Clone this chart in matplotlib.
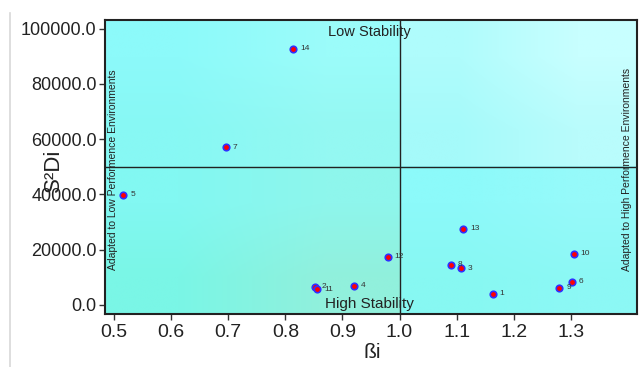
import numpy as np
import matplotlib
matplotlib.use("Agg")
import matplotlib.pyplot as plt
from matplotlib.lines import Line2D

# genotype stability data (beta_i vs S2Di)
genotypes = ["1", "2", "3", "4", "5", "6", "7", "8", "9", "10", "11", "12", "13", "14"]
beta = [1.163, 0.852, 1.108, 0.920, 0.516, 1.302, 0.696, 1.090, 1.280, 1.305, 0.856, 0.979, 1.112, 0.814]
s2di = [3990, 6640, 13300, 7000, 39900, 8460, 57060, 14510, 6290, 18620, 5690, 17410, 27570, 92760]

xticks = [0.5, 0.6, 0.7, 0.8, 0.9, 1.0, 1.1, 1.2, 1.3]
yticks = [0, 20000, 40000, 60000, 80000, 100000]

x0, x1 = 0.484, 1.416
y0, y1 = -3265, 103100
xmid, ymid = 1.0, 50000

plt.rcParams['font.family'] = ['Liberation Sans', 'DejaVu Sans']

fig = plt.figure(figsize=(6.43, 3.67), dpi=100)
ax = fig.add_axes([105/643, 1 - 314/367, 532/643, 294/367])

# quadrant gradients: corners [[top-left, top-right], [bottom-left, bottom-right]]
def quad(xa, xb, ya, yb, tl, tr, bl, br):
    img = np.array([[tl, tr], [bl, br]], dtype=float) / 255.0
    ax.imshow(img, extent=[xa, xb, ya, yb], aspect='auto', interpolation='bilinear',
              origin='upper', zorder=0)

quad(x0, xmid, ymid, y1, (140, 250, 250), (155, 252, 250), (135, 248, 244), (148, 248, 242))
quad(xmid, x1, ymid, y1, (175, 252, 252), (200, 255, 255), (165, 250, 250), (185, 252, 252))
quad(x0, xmid, y0, ymid, (130, 248, 242), (142, 246, 236), (122, 246, 230), (145, 240, 220))
quad(xmid, x1, y0, ymid, (140, 250, 250), (150, 250, 250), (135, 248, 242), (140, 248, 245))

ax.axvline(xmid, color='#222222', lw=1.0, zorder=1)
ax.axhline(ymid, color='#222222', lw=1.0, zorder=1)

ax.scatter(beta, s2di, s=22, facecolor='red', edgecolor='#3030ff', linewidths=1.2, zorder=3)
for g, bx, sy in zip(genotypes, beta, s2di):
    ax.annotate(g, (bx, sy), xytext=(5, 0), textcoords='offset points',
                fontsize=6, va='center', ha='left', color='#333333', zorder=4)

ax.text(0.948, 98600, "Low Stability", ha='center', va='center', fontsize=10.5, color='#222222')
ax.text(0.948, 200, "High Stability", ha='center', va='center', fontsize=11, color='#222222')
ax.text(0.498, 49000, "Adapted to Low Performence Environments", rotation=90,
        ha='center', va='center', fontsize=7.5, color='#222222')
ax.text(1.399, 49000, "Adapted to High Performence Environments", rotation=90,
        ha='center', va='center', fontsize=7.5, color='#222222')

ax.set_xlim(x0, x1)
ax.set_ylim(y0, y1)
ax.set_xticks(xticks)
ax.set_xticklabels([f"{t:.1f}" for t in xticks])
ax.set_yticks(yticks)
ax.set_yticklabels([f"{t:.1f}" for t in yticks])
ax.tick_params(axis='y', labelsize=13, length=4, width=1, color='#333333', labelcolor='#222222', pad=2)
ax.tick_params(axis='x', labelsize=14, length=4, width=1, color='#333333', labelcolor='#222222', pad=3)

for sp in ax.spines.values():
    sp.set_linewidth(1.5)
    sp.set_color('#222222')

ax.set_ylabel("S²Di", fontsize=16, color='#222222')
ax.yaxis.set_label_coords(-0.078, 0.49)
ax.set_xlabel("ßi", fontsize=15, color='#222222')
ax.xaxis.set_label_coords(0.502, -0.10)

# faint border line at the left edge of the screenshot
fig.add_artist(Line2D([10/643, 10/643], [0, 1 - 13/367], color='#d8d8d8', lw=1.2))

fig.savefig("out.png", dpi=100)
